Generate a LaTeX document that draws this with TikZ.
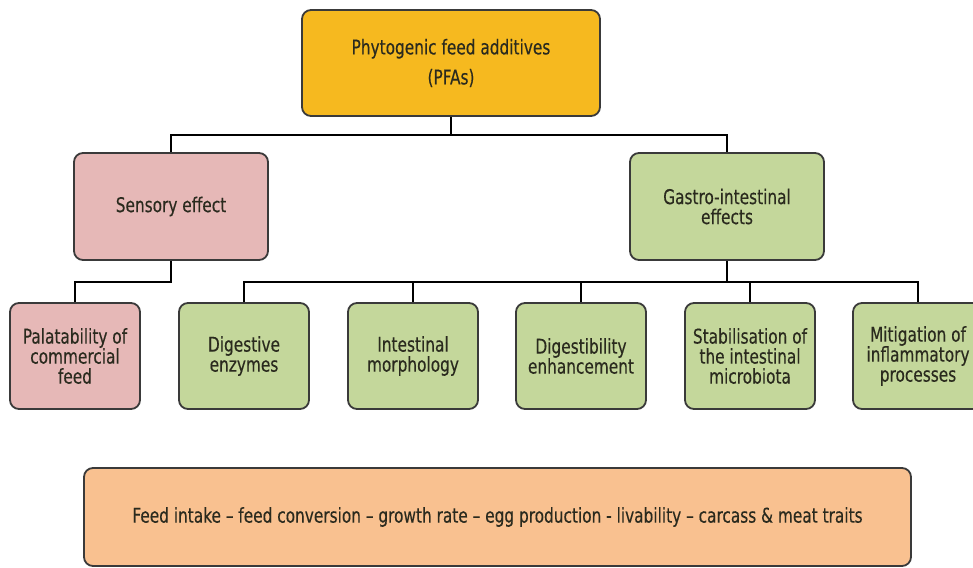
\documentclass[tikz,border=0pt]{standalone}
\usepackage{fontspec}
\setmainfont{DejaVu Sans Condensed}[FakeStretch=0.84, FakeBold=0.3]
\definecolor{topc}{HTML}{F6B91F}
\definecolor{pinkc}{HTML}{E6B8B7}
\definecolor{greenc}{HTML}{C4D79B}
\definecolor{peachc}{HTML}{F9C190}
\definecolor{edgec}{HTML}{3A3A3A}
\definecolor{txtc}{HTML}{2A2A1E}
\tikzset{
  box/.style={draw=edgec, line width=1.8pt, rounded corners=9pt, align=center,
    text=txtc, font=\fontsize{20.3}{20}\selectfont, inner sep=0pt},
  lvl1/.style={box, minimum width=194pt, minimum height=107pt},
  lvl2/.style={box, minimum width=130pt, minimum height=106pt},
  conn/.style={line width=2.4pt, black}
}
\begin{document}
\begin{tikzpicture}[x=1pt,y=-1pt]
\useasboundingbox (0,0) rectangle (973,567);
\fill[white] (0,0) rectangle (973,567);
\node[box, fill=topc, minimum width=298pt, minimum height=106pt, font=\fontsize{20.3}{30}\selectfont] (top) at (451,63) {Phytogenic feed additives\\(PFAs)};
\node[lvl1, fill=pinkc] (sens) at (171,206.5) {Sensory effect};
\node[lvl1, fill=greenc] (gast) at (727,206.5) {Gastro-intestinal\\effects};
\node[lvl2, fill=pinkc] (pal) at (75,356) {Palatability of\\commercial\\feed};
\node[lvl2, fill=greenc] (dig) at (244,356) {Digestive\\enzymes};
\node[lvl2, fill=greenc] (int) at (413,356) {Intestinal\\morphology};
\node[lvl2, fill=greenc] (dge) at (581,356) {Digestibility\\enhancement};
\node[lvl2, fill=greenc] (sta) at (750,356) {Stabilisation of\\the intestinal\\microbiota};
\node[lvl2, fill=greenc] (mit) at (918,356) {Mitigation of\\inflammatory\\processes};
\node[box, fill=peachc, minimum width=827pt, minimum height=98pt] (res) at (497.5,517) {Feed intake – feed conversion – growth rate – egg production - livability – carcass \& meat traits};
\coordinate (j1) at (451,135);
\coordinate (j2) at (171,282);
\coordinate (j3) at (727,282);
\draw[conn] (top.south) -- (j1);
\draw[conn] (sens.north) |- (j1) -| (gast.north);
\draw[conn] (sens.south) -- (j2) -| (pal.north);
\draw[conn] (gast.south) -- (j3);
\draw[conn] (dig.north) |- (j3) -| (mit.north);
\draw[conn] (int.north) -- (int.north |- j3);
\draw[conn] (dge.north) -- (dge.north |- j3);
\draw[conn] (sta.north) -- (sta.north |- j3);
\end{tikzpicture}
\end{document}
